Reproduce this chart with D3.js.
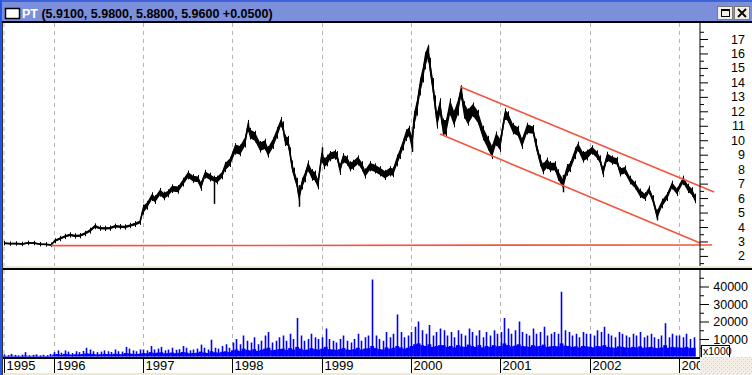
<!DOCTYPE html>
<html><head><meta charset="utf-8">
<script src="https://cdn.jsdelivr.net/npm/d3@7"></script>
<style>html,body{margin:0;padding:0;background:#fff;overflow:hidden}svg{display:block}</style>
</head><body><svg id="c" width="752" height="375"></svg>
<script>
// ---------- DATA ----------
const symbol = "PT";
const quoteText = "(5.9100, 5.9800, 5.8800, 5.9600 +0.0500)";
const yearLabels = [1995,1996,1997,1998,1999,2000,2001,2002,2003];
const priceTicks = [2,3,4,5,6,7,8,9,10,11,12,13,14,15,16,17];
const volumeTicks = [10000,20000,30000,40000];

// price samples (decimal year, close, high, low)
const priceDates = [1995.445,1995.512,1995.579,1995.646,1995.713,1995.780,1995.848,1995.915,1995.971,
 1996.015,1996.071,1996.127,1996.183,1996.239,1996.295,1996.351,1996.407,1996.463,1996.519,1996.575,1996.631,1996.687,1996.743,1996.799,1996.855,1996.911,1996.967,
 1997.001,1997.045,1997.101,1997.135,1997.191,1997.236,1997.281,1997.325,1997.393,1997.449,1997.505,1997.561,1997.617,1997.650,1997.695,1997.751,1997.796,1997.829,1997.885,1997.919,1997.975,
 1998.031,1998.087,1998.143,1998.176,1998.199,1998.255,1998.311,1998.367,1998.400,1998.456,1998.501,1998.546,1998.568,1998.591,1998.624,1998.647,1998.669,1998.691,1998.725,1998.747,1998.781,1998.815,1998.848,1998.893,1998.927,1998.960,
 1999.005,1999.027,1999.061,1999.094,1999.150,1999.173,1999.206,1999.240,1999.285,1999.318,1999.352,1999.408,1999.453,1999.486,1999.542,1999.598,1999.654,1999.710,1999.766,1999.800,1999.844,1999.878,1999.912,1999.945,1999.979,
 2000.012,2000.035,2000.068,2000.102,2000.135,2000.158,2000.191,2000.214,2000.247,2000.270,2000.292,2000.326,2000.359,2000.393,2000.438,2000.483,2000.527,2000.561,2000.595,2000.639,2000.695,2000.751,2000.807,2000.863,2000.908,2000.953,2000.998,
 2001.054,2001.087,2001.143,2001.199,2001.244,2001.300,2001.367,2001.401,2001.446,2001.479,2001.524,2001.558,2001.614,2001.647,2001.703,2001.748,2001.782,2001.838,2001.871,2001.927,2001.972,
 2002.028,2002.084,2002.117,2002.151,2002.196,2002.252,2002.308,2002.341,2002.397,2002.453,2002.509,2002.565,2002.621,2002.666,2002.711,2002.755,2002.811,2002.867,2002.923,2002.979,
 2003.047,2003.103,2003.147,2003.181];
const priceClose = [2.88,2.85,2.86,2.83,2.90,2.89,2.81,2.80,2.76,
 3.05,3.20,3.35,3.45,3.38,3.40,3.55,3.75,4.05,3.92,3.90,3.92,4.05,4.02,4.00,4.10,4.20,4.35,
 5.20,5.50,6.10,5.90,6.40,6.15,6.35,6.65,6.60,7.10,7.60,7.35,7.30,6.85,7.65,7.45,7.30,7.25,7.60,8.15,8.50,
 9.40,9.30,9.90,11.00,10.45,10.25,9.55,9.70,9.20,9.80,10.50,11.25,10.90,10.00,9.90,9.10,8.20,7.70,7.00,6.10,7.00,7.50,8.20,7.60,7.50,7.00,
 9.10,8.40,8.60,8.90,9.00,8.90,8.00,8.75,8.60,8.20,8.30,8.60,8.20,7.70,8.20,8.05,7.85,7.60,7.85,7.80,8.60,9.10,9.70,10.35,10.60,
 9.80,11.40,12.30,13.70,14.60,15.50,16.20,15.10,13.70,12.50,11.40,12.30,10.90,10.90,12.30,11.50,12.30,13.50,12.10,11.60,12.10,11.60,10.50,9.80,9.20,10.10,9.70,
 11.80,11.60,10.80,10.60,9.80,10.80,10.70,9.70,8.60,8.06,8.40,8.17,8.17,7.60,7.00,7.94,8.17,9.10,9.55,8.86,8.98,
 9.33,8.98,8.63,7.83,8.86,8.63,8.52,7.83,7.94,7.25,6.90,6.33,6.10,6.56,5.87,4.83,5.64,6.10,6.90,6.44,
 7.25,6.68,6.44,5.96];
const priceHigh = [2.93,2.90,2.91,2.88,2.95,2.94,2.86,2.85,2.82,
 3.12,3.28,3.43,3.53,3.46,3.48,3.63,3.85,4.15,4.00,3.98,4.00,4.13,4.10,4.08,4.18,4.30,4.45,
 5.45,5.70,6.30,6.10,6.60,6.35,6.50,6.85,6.80,7.30,7.80,7.55,7.50,7.10,7.85,7.65,7.45,7.45,7.80,8.40,8.75,
 9.70,9.60,10.20,11.30,10.75,10.55,9.85,10.00,9.50,10.10,10.80,11.50,11.20,10.30,10.20,9.40,8.50,8.00,7.30,6.40,7.30,7.80,8.50,7.90,7.80,7.30,
 9.40,8.70,8.90,9.15,9.25,9.15,8.30,9.00,8.85,8.45,8.55,8.85,8.45,7.95,8.45,8.30,8.10,7.85,8.10,8.05,8.90,9.40,10.00,10.65,10.90,
 10.30,11.90,12.80,14.20,15.10,16.00,16.50,15.60,14.20,13.00,11.90,12.80,11.40,11.40,12.80,12.00,12.80,13.70,12.60,12.10,12.50,12.00,10.90,10.20,9.60,10.50,10.10,
 12.10,11.90,11.10,10.90,10.10,11.10,10.95,10.00,8.90,8.35,8.70,8.45,8.45,7.90,7.30,8.25,8.45,9.40,9.80,9.15,9.25,
 9.55,9.20,8.85,8.10,9.10,8.85,8.75,8.05,8.15,7.45,7.10,6.55,6.30,6.75,6.10,5.10,5.85,6.30,7.10,6.65,
 7.45,6.90,6.65,6.20];
const priceLow = [2.83,2.80,2.81,2.78,2.85,2.84,2.76,2.75,2.71,
 2.98,3.12,3.27,3.37,3.30,3.32,3.47,3.65,3.95,3.84,3.82,3.84,3.97,3.94,3.92,4.02,4.10,4.25,
 4.95,5.30,5.90,5.70,6.20,5.95,6.15,6.45,6.40,6.90,7.40,7.15,7.10,6.60,7.45,7.25,7.15,7.05,7.40,7.90,8.25,
 9.10,9.00,9.60,10.70,10.15,9.95,9.25,9.40,8.90,9.50,10.20,11.00,10.60,9.70,9.60,8.80,7.90,7.40,6.70,5.80,6.70,7.20,7.90,7.30,7.20,6.70,
 8.80,8.10,8.30,8.65,8.75,8.65,7.70,8.50,8.35,7.95,8.05,8.35,7.95,7.45,7.95,7.80,7.60,7.35,7.60,7.55,8.30,8.80,9.40,10.05,10.30,
 9.30,10.90,11.80,13.20,14.10,15.00,15.70,14.60,13.20,12.00,10.90,11.80,10.40,10.40,11.80,11.00,11.80,13.00,11.60,11.10,11.70,11.20,10.10,9.40,8.80,9.70,9.30,
 11.50,11.30,10.50,10.30,9.50,10.50,10.45,9.40,8.30,7.75,8.10,7.90,7.90,7.30,6.70,7.65,7.90,8.80,9.30,8.55,8.70,
 9.10,8.75,8.40,7.55,8.60,8.40,8.30,7.60,7.70,7.05,6.70,6.10,5.90,6.35,5.65,4.55,5.40,5.90,6.70,6.25,
 7.05,6.45,6.20,5.75];

// isolated outlier bars (decimal year, high, low)
const spikeDates = [1997.796,1998.176,1998.747,1999.005,2000.012,2000.191,2000.561,2001.703,2002.755,2003.047];
const spikeHigh  = [7.40,11.20,6.90,9.50,10.60,16.50,13.70,7.60,5.20,7.40];
const spikeLow   = [5.60,10.60,5.40,8.40,9.20,15.40,12.80,6.40,4.50,6.90];

// trend lines (decimal year, value)
const upperChannelDates = [2000.550, 2003.394];
const upperChannelValues = [13.70, 6.42];
const lowerChannelDates = [2000.326, 2003.237];
const lowerChannelValues = [10.43, 2.89];
const supportDates = [1995.971, 2003.371];
const supportValues = [2.71, 2.76];

// volume in thousands, one slot per 0.04 year from volumeStart: typical (base) and peak
const volumeStart = 1995.445;
const volumeStep = 0.04;
const volumePeak = [1.2,0.8,1.5,0.9,0.7,1.0,2.5,0.8,0.9,1.2,0.7,1.0,0.8,1.5,
 2.5,3.5,2.2,3.5,2.8,2.0,3.0,2.5,3.2,5.0,4.0,3.0,2.5,2.8,3.5,3.0,2.6,4.0,3.0,2.8,5.5,4.5,3.5,3.0,4.0,
 4.0,3.5,6.0,4.0,4.5,5.5,3.5,4.0,5.0,3.8,4.2,6.0,5.0,3.5,4.0,4.5,6.8,5.0,4.0,9.6,5.0,4.5,6.0,7.0,5.0,
 8,10,7,12,9,8,11,7,9,12,14,8,9,11,12,9,13,10,22,12,9,10,13,11,10,
 11,16,10,9,8,10,12,9,8,10,13,9,11,12,44,12,10,9,14,11,13,24,14,11,12,
 14,17,20,15,13,18,12,14,16,15,12,14,11,15,13,12,16,14,12,15,11,14,12,15,13,
 14,22,16,13,15,20,14,13,12,16,13,14,17,12,13,14,13,37,15,14,12,13,11,14,13,
 13,12,15,14,17,13,12,11,14,13,12,11,13,12,14,11,12,13,11,10,12,19,11,13,12,
 12,11,13,10,11];
const volumeBase = [0.4,0.3,0.5,0.4,0.3,0.4,0.6,0.3,0.4,0.5,0.3,0.4,0.3,0.5,
 1.2,1.4,1.0,1.5,1.3,1.0,1.3,1.2,1.4,1.8,1.6,1.4,1.2,1.3,1.5,1.4,1.3,1.6,1.4,1.3,2.0,1.8,1.5,1.4,1.6,
 2.0,1.8,2.5,2.0,2.2,2.4,1.8,2.0,2.3,1.9,2.1,2.6,2.3,1.8,2.0,2.2,2.8,2.3,2.0,3.0,2.4,2.2,2.7,3.0,2.5,
 3.5,4.0,3.2,4.5,3.8,3.5,4.2,3.2,3.8,4.5,5.0,3.6,3.8,4.2,4.5,3.8,4.8,4.0,5.5,4.5,3.8,4.0,4.8,4.2,4.0,
 4.5,5.5,4.2,4.0,3.8,4.2,4.8,4.0,3.8,4.2,5.0,4.0,4.5,4.8,6.0,4.8,4.2,4.0,5.2,4.5,5.0,6.0,5.2,4.5,5.0,
 6.0,7.0,7.5,6.5,6.0,7.0,5.5,6.0,6.5,6.5,5.5,6.0,5.2,6.5,5.8,5.5,6.8,6.0,5.5,6.5,5.2,6.0,5.5,6.5,5.8,
 6.0,7.5,6.5,5.8,6.2,7.0,6.0,5.8,5.5,6.5,5.8,6.0,6.8,5.5,5.8,6.0,5.8,7.5,6.2,6.0,5.5,5.8,5.2,6.0,5.8,
 5.5,5.2,6.0,5.8,6.5,5.5,5.2,5.0,5.8,5.5,5.2,5.0,5.5,5.2,5.8,5.0,5.2,5.5,5.0,4.8,5.2,6.5,5.0,5.5,5.2,
 5.2,5.0,5.5,4.8,5.0];

// ---------- LAYOUT ----------
const svg = d3.select("#c");
const plotL = 4, plotR = 697, axisX = 700;
const priceTop = 23, priceBot = 266, volTop = 270, volBot = 357;
const font = "'Liberation Sans', Arial, sans-serif";

const x = d3.scaleLinear().domain([1996, 2003]).range([53.62, 678.86]);
const y = d3.scaleLinear().domain([4, 17]).range([227, 39]);
const yv = d3.scaleLinear().domain([0, 40000]).range([356.5, 286.5]);

svg.append("rect").attr("width",752).attr("height",375).attr("fill","#fff");

const defs = svg.append("defs");
defs.append("clipPath").attr("id","plotClip").append("rect")
  .attr("x",plotL-1).attr("y",priceTop).attr("width",plotR-plotL+2).attr("height",volBot-priceTop);
defs.append("clipPath").attr("id","stripClip").append("rect")
  .attr("x",0).attr("y",volBot).attr("width",axisX).attr("height",375-volBot);
const pat = defs.append("pattern").attr("id","dots").attr("width",4).attr("height",4).attr("patternUnits","userSpaceOnUse");
pat.append("rect").attr("width",4).attr("height",4).attr("fill","#f3efe6");
pat.append("rect").attr("x",1).attr("y",1).attr("width",1).attr("height",1).attr("fill","#d9c9c9");
pat.append("rect").attr("x",3).attr("y",3).attr("width",1).attr("height",1).attr("fill","#cfd6cc");

// year grid lines (dashed)
const gridXs = [plotL].concat(yearLabels.slice(1).map(d => Math.round(x(d))+0.5));
[[priceTop, priceBot],[volTop, volBot]].forEach(([a,b]) => {
  svg.append("g").selectAll("line").data(gridXs).join("line")
    .attr("x1",d=>d).attr("x2",d=>d).attr("y1",a).attr("y2",b)
    .attr("stroke","#b9b3b3").attr("stroke-width",1).attr("stroke-dasharray","4,4");
});

// ---------- PRICE ----------
const priceData = priceDates.map((d,i)=>({d, c: priceClose[i], h: priceHigh[i], l: priceLow[i]}));
const gP = svg.append("g").attr("clip-path","url(#plotClip)");
gP.append("path").datum(priceData)
  .attr("d", d3.area().x(p=>x(p.d)).y0(p=>y(p.l)).y1(p=>y(p.h)))
  .attr("fill","#000");
gP.append("path").datum(priceData)
  .attr("d", d3.line().x(p=>x(p.d)).y(p=>y(p.c)))
  .attr("fill","none").attr("stroke","#000").attr("stroke-width",1.6);
gP.selectAll("line.hl").data(priceData).join("line").attr("class","hl")
  .attr("x1",p=>Math.round(x(p.d))+0.5).attr("x2",p=>Math.round(x(p.d))+0.5)
  .attr("y1",p=>y(p.h)-1.5).attr("y2",p=>y(p.l)+1.5).attr("stroke","#000").attr("stroke-width",1);
gP.selectAll("line.sp").data(spikeDates.map((d,i)=>({d,h:spikeHigh[i],l:spikeLow[i]}))).join("line").attr("class","sp")
  .attr("x1",p=>Math.round(x(p.d))+0.5).attr("x2",p=>Math.round(x(p.d))+0.5)
  .attr("y1",p=>y(p.h)).attr("y2",p=>y(p.l)).attr("stroke","#000").attr("stroke-width",1.5);

// trend lines
const red = "#f2553f";
[[upperChannelDates,upperChannelValues],[lowerChannelDates,lowerChannelValues],[supportDates,supportValues]].forEach(([ds,vs])=>{
  svg.append("line").attr("x1",x(ds[0])).attr("y1",y(vs[0])).attr("x2",x(ds[1])).attr("y2",y(vs[1]))
    .attr("stroke",red).attr("stroke-width",1.6);
});

// ---------- VOLUME ----------
const volData = volumePeak.map((v,i)=>({d: volumeStart + i*volumeStep, p: v*1000, b: volumeBase[i]*1000}));
const bw = x(volumeStart+volumeStep) - x(volumeStart);
const gV = svg.append("g").attr("clip-path","url(#plotClip)");
gV.selectAll("rect").data(volData).join("rect")
  .attr("x",p=>x(p.d)-bw/2).attr("width",bw+0.3)
  .attr("y",p=>yv(p.b)).attr("height",p=>yv(0)-yv(p.b)).attr("fill","#0000ff");
gV.selectAll("line").data(volData).join("line")
  .attr("x1",p=>Math.round(x(p.d))+0.5).attr("x2",p=>Math.round(x(p.d))+0.5)
  .attr("y1",p=>yv(p.p)).attr("y2",yv(0)).attr("stroke","#0000ff").attr("stroke-width",1.6);

// ---------- AXES ----------
const pa = svg.append("g").attr("transform",`translate(${axisX},0)`);
pa.append("line").attr("x1",0).attr("x2",0).attr("y1",priceTop).attr("y2",priceBot).attr("stroke","#000");
pa.append("g").call(d3.axisRight(y).tickValues(priceTicks).tickSize(8).tickFormat(d3.format("d")))
  .call(s=>{
    s.select(".domain").remove();
    s.selectAll("line").attr("stroke","#000");
    s.selectAll("text").attr("x",45).attr("text-anchor","end").attr("font-family",font).attr("font-size",12.5).attr("fill","#000");
  });
pa.append("g").call(d3.axisRight(y).tickValues(d3.range(1.5, 18.5, 1)).tickSize(4).tickFormat(""))
  .call(s=>{s.select(".domain").remove(); s.selectAll("line").attr("stroke","#000");});

const va = svg.append("g").attr("transform",`translate(${axisX},0)`);
va.append("line").attr("x1",0).attr("x2",0).attr("y1",volTop).attr("y2",volBot).attr("stroke","#000");
va.append("g").call(d3.axisRight(yv).tickValues(volumeTicks).tickSize(9).tickFormat(d3.format("d")))
  .call(s=>{
    s.select(".domain").remove();
    s.selectAll("line").attr("stroke","#000");
    s.selectAll("text").attr("x",48).attr("text-anchor","end").attr("font-family",font).attr("font-size",12.5).attr("fill","#000");
  });
va.append("g").call(d3.axisRight(yv).tickValues([5000,15000,25000,35000,45000]).tickSize(4).tickFormat(""))
  .call(s=>{s.select(".domain").remove(); s.selectAll("line").attr("stroke","#000");});
va.append("rect").attr("x",1.5).attr("y",345.5).attr("width",28).attr("height",12).attr("fill","#fff").attr("stroke","#000");
va.append("text").attr("x",3).attr("y",355).attr("font-family",font).attr("font-size",10.5).text("x1000");

// separators
svg.append("rect").attr("x",0).attr("y",266).attr("width",752).attr("height",2).attr("fill","#ece9d8");
svg.append("rect").attr("x",0).attr("y",268).attr("width",752).attr("height",2).attr("fill","#000");

// time axis strip
svg.append("rect").attr("x",0).attr("y",volBot).attr("width",axisX).attr("height",375-volBot).attr("fill","#fdfdf9");
svg.append("rect").attr("x",0).attr("y",volBot).attr("width",axisX).attr("height",2).attr("fill","#000");
svg.append("rect").attr("x",0).attr("y",373).attr("width",axisX).attr("height",2).attr("fill","#ece9d8");
const ta = svg.append("g").attr("clip-path","url(#stripClip)");
const yearPos = yearLabels.map((d,i)=>({d, px: i===0 ? plotL : Math.round(x(d))}));
ta.selectAll("line").data(yearPos).join("line")
  .attr("x1",p=>p.px+0.5).attr("x2",p=>p.px+0.5).attr("y1",volBot+2).attr("y2",373).attr("stroke","#000").attr("stroke-width",1);
ta.selectAll("text").data(yearPos).join("text")
  .attr("x",p=>p.px+2.5).attr("y",370).attr("font-family",font).attr("font-size",13).attr("fill","#000")
  .text(p=>p.d);
svg.append("rect").attr("x",axisX).attr("y",volBot).attr("width",752-axisX).attr("height",375-volBot).attr("fill","url(#dots)");

// ---------- WINDOW CHROME ----------
svg.append("rect").attr("x",0).attr("y",0).attr("width",752).attr("height",21).attr("fill","#7b8fdb");
svg.append("rect").attr("x",0).attr("y",0).attr("width",752).attr("height",2).attr("fill","#3d62d9");
svg.append("rect").attr("x",0).attr("y",21).attr("width",752).attr("height",2).attr("fill","#000");
svg.append("rect").attr("x",0).attr("y",0).attr("width",2).attr("height",375).attr("fill","#2456e6");
svg.append("rect").attr("x",2).attr("y",23).attr("width",1).attr("height",352).attr("fill","#333");
svg.append("rect").attr("x",5.5).attr("y",8.5).attr("width",14).attr("height",10).attr("fill","#fff").attr("stroke","#000").attr("stroke-width",1.5);
const tt = svg.append("text").attr("x",22).attr("y",18).attr("font-family",font).attr("font-weight","bold").attr("font-size",12.5);
tt.append("tspan").attr("fill","#fff").text(symbol + " ");
tt.append("tspan").attr("fill","#000").text(quoteText);
[717, 734].forEach(bx=>{
  svg.append("rect").attr("x",bx+0.5).attr("y",6.5).attr("width",15).attr("height",13).attr("fill","#f1efe6").attr("stroke","#7a7a7a");
});
svg.append("rect").attr("x",721.5).attr("y",9.5).attr("width",8).attr("height",7).attr("fill","none").attr("stroke","#000");
svg.append("rect").attr("x",721).attr("y",9).attr("width",9).attr("height",2).attr("fill","#000");
svg.append("path").attr("d","M738,9 L746,17 M746,9 L738,17").attr("stroke","#000").attr("stroke-width",1.8);
</script></body></html>
